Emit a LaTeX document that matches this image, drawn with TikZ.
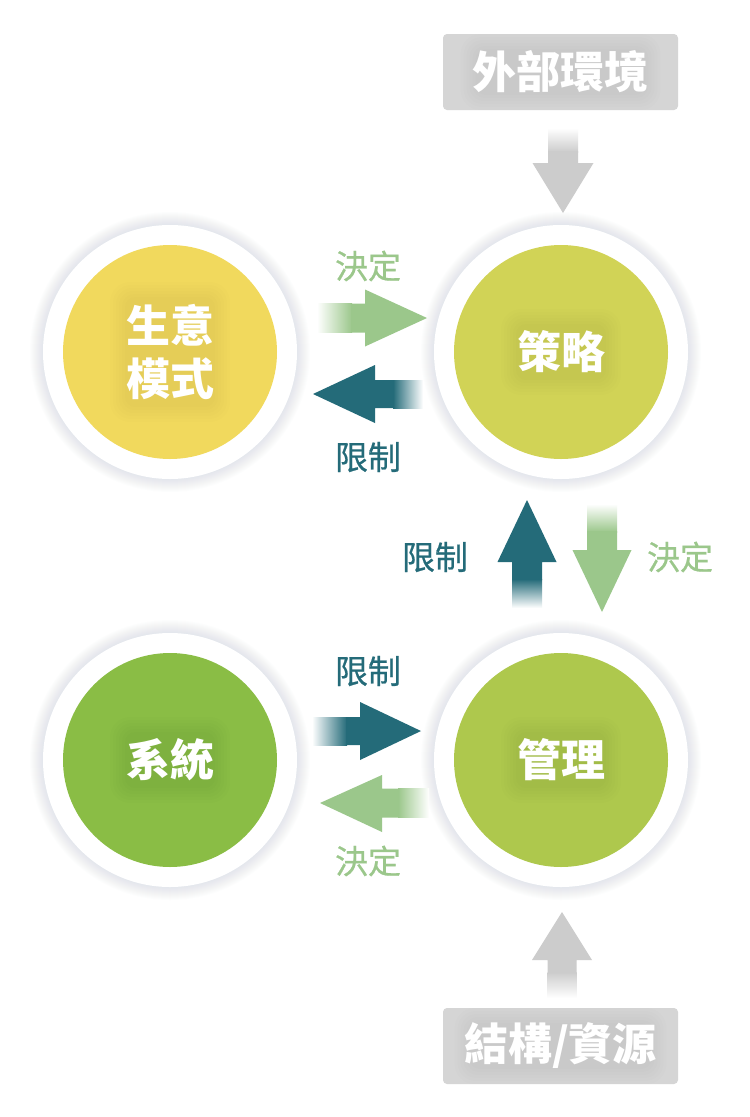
\documentclass[tikz,border=0pt]{standalone}
\usepackage{fontspec}
\setmainfont{Noto Sans CJK TC}
\newfontfamily\lblfont[FakeBold=0.6]{Noto Sans CJK TC}
\definecolor{bmc}{HTML}{F1D95D}
\definecolor{stc}{HTML}{D1D356}
\definecolor{syc}{HTML}{8ABD45}
\definecolor{mgc}{HTML}{AEC84D}
\definecolor{tealc}{HTML}{246B79}
\definecolor{lgreen}{HTML}{9BC78B}
\definecolor{boxc}{HTML}{D5D5D5}
\definecolor{garrow}{HTML}{CCCCCC}
\definecolor{glowc}{HTML}{A9C0CB}
\tikzset{
  outerc/.style={circle, fill=white, minimum size=254pt, inner sep=0pt},
  innerc/.style={circle, minimum size=214pt, inner sep=0pt},
  halo/.style={rectangle, fill=black, opacity=0.009, inner sep=0pt},
  maintxt/.style={text=white, align=center, inner sep=0pt,
    font=\bfseries\fontsize{44}{53}\selectfont},
  boxnode/.style={rectangle, rounded corners=4pt, fill=boxc, minimum width=235pt,
    minimum height=76pt, inner sep=0pt},
  lbl/.style={inner sep=0pt, font=\lblfont\fontsize{33}{40}\selectfont},
  lblg/.style={lbl, text=lgreen},
  lblt/.style={lbl, text=tealc}
}
\newcommand\glowring[1]{%
  \foreach \i in {1,...,13}{\fill[glowc, opacity=0.025] (#1) circle ({127+\i});}}
\newcommand\halobox[3]{%
  \foreach \k in {0,...,5}{%
    \node[halo, rounded corners={20pt-2*\k pt}, minimum width={#2pt-6*\k pt},
      minimum height={#3pt-6*\k pt}] at (#1) {};}}
\begin{document}
\begin{tikzpicture}[x=1pt,y=-1pt]
\useasboundingbox (0,0) rectangle (750,1117);
\fill[white] (0,0) rectangle (750,1117);

% centres
\coordinate (cBM) at (170,352);
\coordinate (cST) at (561,352);
\coordinate (cSY) at (170,760);
\coordinate (cMG) at (561,760);

% glows and circles
\glowring{cBM}\glowring{cST}\glowring{cSY}\glowring{cMG}
\node[outerc] (oBM) at (cBM) {};
\node[outerc] (oST) at (cST) {};
\node[outerc] (oSY) at (cSY) {};
\node[outerc] (oMG) at (cMG) {};
\node[innerc, fill=bmc] (bm) at (cBM) {};
\node[innerc, fill=stc] (st) at (cST) {};
\node[innerc, fill=syc] (sy) at (cSY) {};
\node[innerc, fill=mgc] (mg) at (cMG) {};
\halobox{bm.center}{120}{140}
\halobox{st.center}{120}{86}
\halobox{sy.center}{120}{86}
\halobox{mg.center}{120}{86}
\node[maintxt] (tbm) at (bm.center) {生意\\模式};
\node[maintxt] (tst) at (st.center) {策略};
\node[maintxt] (tsy) at (sy.center) {系統};
\node[maintxt] (tmg) at (mg.center) {管理};

% boxes
\node[boxnode] (ext) at (560.5,72) {};
\node[boxnode] (res) at (560.5,1046) {};
\halobox{ext.center}{200}{76}
\halobox{res.center}{212}{76}
\node[maintxt] (text) at (ext.center) {外部環境};
\node[maintxt] (tres) at (res.center) {結構/資源};

% gray arrow down (外部環境 -> 策略)
\shade[top color=white, bottom color=garrow] (548,128) rectangle (578,152);
\fill[garrow] (548,151) -- (578,151) -- (578,163) -- (593.5,163) -- (563,213)
  -- (532.5,163) -- (548,163) -- cycle;

% gray arrow up (結構/資源 -> 管理)
\shade[top color=garrow, bottom color=white] (547.5,972) rectangle (576.5,998);
\fill[garrow] (547.5,973) -- (576.5,973) -- (576.5,960) -- (592,960) -- (562,912)
  -- (532,960) -- (547.5,960) -- cycle;

% top: 決定 right arrow (生意模式 -> 策略)
\shade[left color=white, right color=lgreen] (317,303.5) rectangle (352,332.5);
\fill[lgreen] (351,303.5) -- (365,303.5) -- (365,289.5) -- (427,318)
  -- (365,346.5) -- (365,332.5) -- (351,332.5) -- cycle;
\node[lblg] (l1) at (368,266) {決定};

% top: 限制 left arrow (策略 -> 生意模式)
\shade[left color=tealc, right color=white] (393,380) rectangle (423,408);
\fill[tealc] (394,380) -- (375,380) -- (375,365) -- (313,394)
  -- (375,423) -- (375,408) -- (394,408) -- cycle;
\node[lblt] (l2) at (368,457) {限制};

% middle: 限制 up arrow (管理 -> 策略)
\shade[top color=tealc, bottom color=white] (512,579) rectangle (542,608);
\fill[tealc] (512,580) -- (512,562) -- (497.5,562) -- (527,500)
  -- (556.5,562) -- (542,562) -- (542,580) -- cycle;
\node[lblt] (l3) at (435,557) {限制};

% middle: 決定 down arrow (策略 -> 管理)
\shade[top color=white, bottom color=lgreen] (587,504) rectangle (617,532);
\fill[lgreen] (587,531) -- (617,531) -- (617,550) -- (631.5,550) -- (602,612)
  -- (572.5,550) -- (587,550) -- cycle;
\node[lblg] (l4) at (680,557) {決定};

% bottom: 限制 right arrow (系統 -> 管理)
\shade[left color=white, right color=tealc] (312,717) rectangle (347,745);
\fill[tealc] (346,717) -- (360,717) -- (360,702) -- (421,731)
  -- (360,760) -- (360,745) -- (346,745) -- cycle;
\node[lblt] (l5) at (368,671) {限制};

% bottom: 決定 left arrow (管理 -> 系統)
\shade[left color=lgreen, right color=white] (398,788.5) rectangle (429,817.5);
\fill[lgreen] (399,788.5) -- (382,788.5) -- (382,775) -- (320,803)
  -- (382,832) -- (382,817.5) -- (399,817.5) -- cycle;
\node[lblg] (l6) at (368,861) {決定};
\end{tikzpicture}
\end{document}
